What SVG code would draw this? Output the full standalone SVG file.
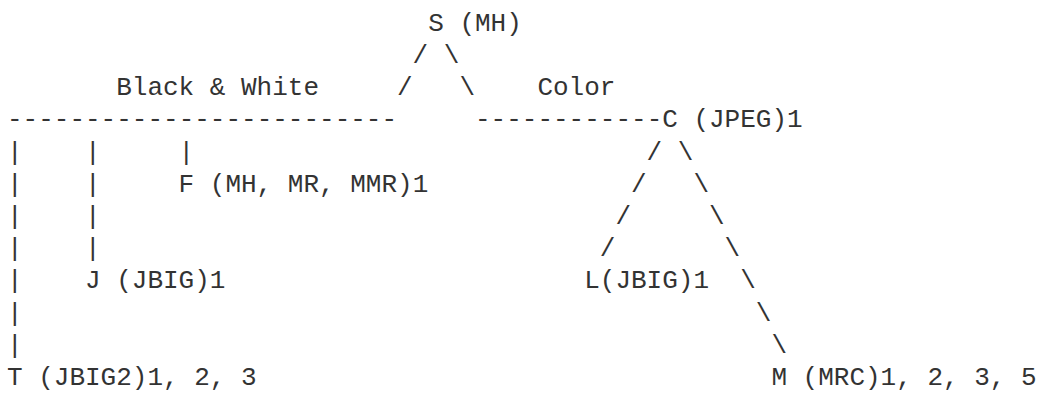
<svg xmlns="http://www.w3.org/2000/svg" width="1040" height="393" viewBox="0 0 1040 393">
<style>
text{font-family:"Liberation Mono","DejaVu Sans Mono",monospace;font-size:26px;fill:#333;white-space:pre}
</style>
<rect width="1040" height="393" fill="#fff"/>
<g id="connectors">
<text x="412.6" y="63">/</text><text x="443.8" y="63">\</text>
<text x="397" y="95.2">/</text><text x="459.4" y="95.2">\</text>
<text x="7" y="127.4">-------------------------</text>
<text x="475" y="127.4">------------</text>
<text x="7" y="159.6">|</text><text x="85" y="159.6">|</text><text x="178.6" y="159.6">|</text>
<text x="646.6" y="159.6">/</text><text x="677.8" y="159.6">\</text>
<text x="7" y="191.8">|</text><text x="85" y="191.8">|</text>
<text x="631" y="191.8">/</text><text x="693.4" y="191.8">\</text>
<text x="7" y="224">|</text><text x="85" y="224">|</text>
<text x="615.4" y="224">/</text><text x="709" y="224">\</text>
<text x="7" y="256.2">|</text><text x="85" y="256.2">|</text>
<text x="599.8" y="256.2">/</text><text x="724.6" y="256.2">\</text>
<text x="7" y="288.4">|</text><text x="740.2" y="288.4">\</text>
<text x="7" y="320.6">|</text><text x="755.8" y="320.6">\</text>
<text x="7" y="352.8">|</text><text x="771.4" y="352.8">\</text>
</g>
<g id="label-bw"><text x="116.2" y="95.2">Black &amp; White</text></g>
<g id="label-color"><text x="537.4" y="95.2">Color</text></g>
<g id="node-S"><text x="428.2" y="30.8">S (MH)</text></g>
<g id="node-C"><text x="662.2" y="127.4">C (JPEG)1</text></g>
<g id="node-F"><text x="178.6" y="191.8">F (MH, MR, MMR)1</text></g>
<g id="node-J"><text x="85" y="288.4">J (JBIG)1</text></g>
<g id="node-L"><text x="584.2" y="288.4">L(JBIG)1</text></g>
<g id="node-T"><text x="7" y="385">T (JBIG2)1, 2, 3</text></g>
<g id="node-M"><text x="771.4" y="385">M (MRC)1, 2, 3, 5</text></g>
</svg>
